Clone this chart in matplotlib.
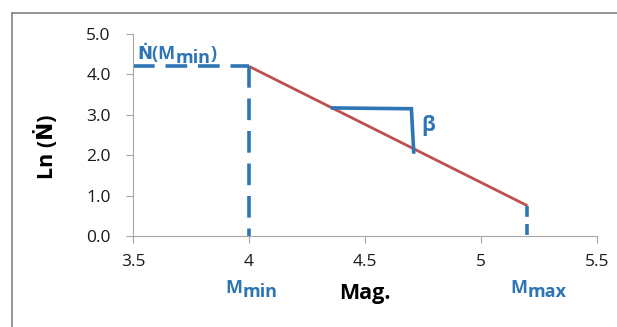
import matplotlib
matplotlib.use("Agg")
import matplotlib.pyplot as plt
from matplotlib.lines import Line2D

plt.rcParams['font.family'] = ['Open Sans', 'DejaVu Sans']

# Gutenberg-Richter style sketch
line_x = [4.0, 5.2]
line_y = [4.2, 0.75]
top_x = [3.5, 4.0]
top_y = [4.2, 4.2]
mmin_x = [4.0, 4.0]
mmin_y = [4.2, 0.0]
mmax_x = [5.2, 5.2]
mmax_y = [0.75, 0.0]
tri_x = [4.36, 4.70, 4.71]
tri_y = [3.17, 3.15, 2.08]

xticks = [3.5, 4, 4.5, 5, 5.5]
xlabels = ['3.5', '4', '4.5', '5', '5.5']
yticks = [0, 1, 2, 3, 4, 5]
ylabels = ['0.0', '1.0', '2.0', '3.0', '4.0', '5.0']

blue = '#2E75B6'
red = '#C0504D'
grey = '#A6A6A6'

fig = plt.figure(figsize=(6.17, 3.27), dpi=100)
ax = fig.add_axes([133/617, 1 - 236/327, (597-133)/617, (236-34)/327])

ax.plot(line_x, line_y, color=red, lw=2, solid_capstyle='butt')
ax.plot(top_x, top_y, color=blue, lw=2.6, dashes=(6, 3), clip_on=False)
ax.plot(mmin_x, mmin_y, color=blue, lw=2.6, dashes=(6, 3), clip_on=False)
ax.plot(mmax_x, mmax_y, color=blue, lw=2.6, dashes=(3, 2), clip_on=False)
ax.plot(tri_x, tri_y, color=blue, lw=2.6, solid_joinstyle='miter')

ax.text(4.742, 2.735, 'β', color=blue, fontsize=15, fontweight='bold', ha='left', va='center')


def sub_label(x, y, main, sub, tail=''):
    kw = dict(color=blue, fontsize=13, fontweight='bold', annotation_clip=False)
    t1 = ax.text(x, y, main, color=blue, fontsize=13, fontweight='bold',
                 ha='left', va='baseline', clip_on=False)
    t2 = ax.annotate(sub, xy=(1, 0), xycoords=t1, xytext=(0, -3), textcoords='offset points',
                     ha='left', va='bottom', **kw)
    if tail:
        ax.annotate(tail, xy=(1, 0), xycoords=t2, xytext=(0, 3), textcoords='offset points',
                    ha='left', va='bottom', **kw)


sub_label(3.521, 4.38, 'Ṅ(M', 'min', ')')
sub_label(3.898, -1.41, 'M', 'min')
sub_label(5.127, -1.41, 'M', 'max')

ax.set_xlim(3.5, 5.5)
ax.set_ylim(0, 5)
ax.set_xticks(xticks)
ax.set_xticklabels(xlabels)
ax.set_yticks(yticks)
ax.set_yticklabels(ylabels)
ax.tick_params(direction='out', length=5, color=grey, labelsize=12.5, labelcolor='#1a1a1a')
ax.tick_params(axis='x', pad=8)
ax.tick_params(axis='y', pad=11)
for s in ['top', 'right']:
    ax.spines[s].set_visible(False)
for s in ['left', 'bottom']:
    ax.spines[s].set_color(grey)

ax.set_xlabel('Mag.', fontsize=15.5, fontweight='bold')
ax.set_ylabel('Ln (Ṅ)', fontsize=15.5, fontweight='bold')
ax.xaxis.set_label_coords(0.5, -0.233)
ax.yaxis.set_label_coords(-0.162, 0.44)

# outer chart frame
fig.add_artist(Line2D([12/617, 1], [1 - 13/327, 1 - 13/327], color='#8C8C8C', lw=1.3, transform=fig.transFigure))
fig.add_artist(Line2D([12/617, 12/617], [0, 1 - 13/327], color='#8C8C8C', lw=1.3, transform=fig.transFigure))

fig.savefig('out.png', dpi=100)
